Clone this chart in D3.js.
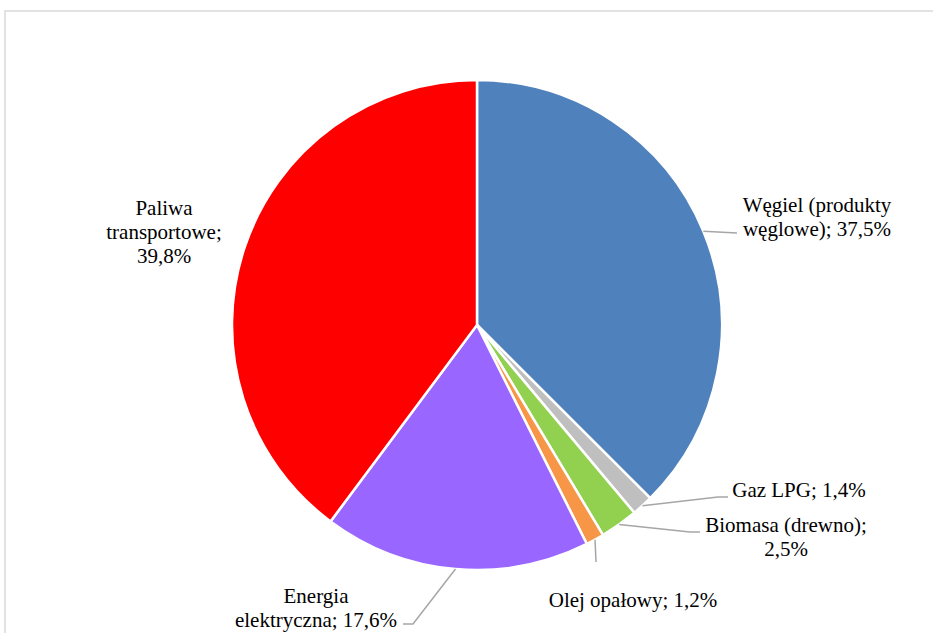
<!DOCTYPE html>
<html>
<head>
<meta charset="utf-8">
<script src="https://cdn.jsdelivr.net/npm/d3@7"></script>
<style>
html,body{margin:0;padding:0;background:#fff;}
svg{display:block;}
text{font-family:"Liberation Serif","Times New Roman",serif;font-size:21px;fill:#000;}
</style>
</head>
<body>
<svg id="chart" width="933" height="633"></svg>
<script>
// ---- data ----
const categories = ["Węgiel (produkty węglowe)", "Gaz LPG", "Biomasa (drewno)", "Olej opałowy", "Energia elektryczna", "Paliwa transportowe"];
const values = [37.5, 1.4, 2.5, 1.2, 17.6, 39.8];
const colors = ["#4F81BD", "#BFBFBF", "#92D050", "#F79646", "#9966FF", "#FF0000"];
const labelLines = [
  ["Węgiel (produkty", "węglowe); 37,5%"],
  ["Gaz LPG; 1,4%"],
  ["Biomasa (drewno);", "2,5%"],
  ["Olej opałowy; 1,2%"],
  ["Energia", "elektryczna; 17,6%"],
  ["Paliwa", "transportowe;", "39,8%"]
];

// ---- layout (not data) ----
const cx = 477, cy = 325, R = 245;
// label text centre x / first baseline y
const labelPos = [[817, 212], [799, 497], [786, 532], [633, 607], [316, 603], [164, 215]];
// leader line points after the arc start point (null = no leader)
const leaderPts = [
  [[737, 233]],
  [[718, 497], [728, 497]],
  [[690, 532], [700, 532]],
  [[596, 562]],
  [[413, 624], [403, 624]],
  null
];
const lineH = 24;

const svg = d3.select("#chart");

// frame
svg.append("rect")
  .attr("x", 5).attr("y", 11)
  .attr("width", 1000).attr("height", 1000)
  .attr("fill", "none")
  .attr("stroke", "#d9d9d9")
  .attr("stroke-width", 1.5);

const pie = d3.pie().sort(null).value(d => d).startAngle(0).endAngle(2 * Math.PI);
const arcs = pie(values);
const arc = d3.arc().innerRadius(0).outerRadius(R);

const g = svg.append("g").attr("transform", `translate(${cx},${cy})`);
g.selectAll("path.slice")
  .data(arcs)
  .join("path")
  .attr("class", "slice")
  .attr("d", arc)
  .attr("fill", (d, i) => colors[i])
  .attr("stroke", "#fff")
  .attr("stroke-width", 2.5)
  .attr("stroke-linejoin", "round");

// leader lines
const line = d3.line();
arcs.forEach((d, i) => {
  if (!leaderPts[i]) return;
  const mid = (d.startAngle + d.endAngle) / 2;
  const start = [cx + R * Math.sin(mid), cy - R * Math.cos(mid)];
  svg.append("path")
    .attr("d", line([start, ...leaderPts[i]]))
    .attr("fill", "none")
    .attr("stroke", "#A6A6A6")
    .attr("stroke-width", 1.5);
});

// labels
labelLines.forEach((lines, i) => {
  const t = svg.append("text")
    .attr("text-anchor", "middle");
  lines.forEach((s, j) => {
    t.append("tspan")
      .attr("x", labelPos[i][0])
      .attr("y", labelPos[i][1] + j * lineH)
      .text(s);
  });
});
</script>
</body>
</html>
